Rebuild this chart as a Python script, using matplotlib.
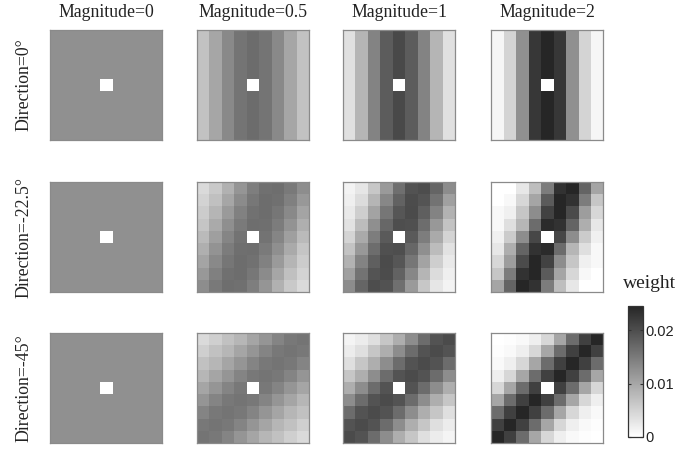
import numpy as np
import matplotlib
matplotlib.use("Agg")
import matplotlib.pyplot as plt
from matplotlib.colors import LinearSegmentedColormap

# weights are in units of 1e-3, the centre cell is left empty
magnitudes = ["0", "0.5", "1", "2"]
directions = ["0", "-22.5", "-45"]

uniform_weight = 12.5

# direction 0: weights only change across columns
dir0_mag05 = [6.8, 10.0, 13.3, 15.6, 16.5, 15.6, 13.3, 10.0, 6.8]
dir0_mag1 = [3.5, 8.3, 13.9, 18.3, 20.4, 18.3, 13.9, 8.3, 3.5]
dir0_mag2 = [1.0, 4.8, 12.5, 22.5, 24.5, 22.5, 12.5, 4.8, 1.0]

dir22_mag05 = [
    [4.2, 6.1, 8.8, 11.9, 14.5, 16.1, 16.3, 15.1, 12.8],
    [4.9, 7.1, 10.0, 13.1, 15.3, 16.4, 16.0, 14.3, 11.5],
    [5.7, 8.3, 11.3, 14.1, 15.9, 16.4, 15.4, 13.3, 10.2],
    [6.6, 9.5, 12.6, 15.0, 16.3, 16.2, 14.7, 12.1, 9.0],
    [7.8, 10.8, 13.7, 15.7, np.nan, 15.7, 13.7, 10.8, 7.8],
    [9.0, 12.1, 14.7, 16.2, 16.3, 15.0, 12.6, 9.5, 6.6],
    [10.2, 13.3, 15.4, 16.4, 15.9, 14.1, 11.3, 8.3, 5.7],
    [11.5, 14.3, 16.0, 16.4, 15.3, 13.1, 10.0, 7.1, 4.9],
    [12.8, 15.1, 16.3, 16.1, 14.5, 11.9, 8.8, 6.1, 4.2],
]
dir22_mag1 = [
    [1.3, 2.8, 6.3, 11.3, 16.2, 19.5, 20.0, 17.3, 13.0],
    [1.8, 3.9, 8.3, 13.5, 17.7, 20.1, 19.2, 15.7, 10.7],
    [2.4, 5.5, 10.4, 15.4, 19.0, 20.2, 18.0, 13.9, 8.7],
    [3.3, 7.5, 12.6, 17.1, 19.9, 19.7, 16.4, 11.6, 6.7],
    [4.8, 9.5, 14.6, 18.5, np.nan, 18.5, 14.6, 9.5, 4.8],
    [6.7, 11.6, 16.4, 19.7, 19.9, 17.1, 12.6, 7.5, 3.3],
    [8.7, 13.9, 18.0, 20.2, 19.0, 15.4, 10.4, 5.5, 2.4],
    [10.7, 15.7, 19.2, 20.1, 17.7, 13.5, 8.3, 3.9, 1.8],
    [13.0, 17.3, 20.0, 19.5, 16.2, 11.3, 6.3, 2.8, 1.3],
]
dir22_mag2 = [
    [0.0, 0.0, 2.7, 7.3, 14.7, 23.0, 24.5, 17.5, 10.1],
    [0.0, 0.8, 4.5, 10.1, 18.4, 24.5, 23.0, 14.7, 6.4],
    [0.8, 1.7, 6.4, 12.8, 21.2, 24.5, 20.2, 11.0, 4.5],
    [0.8, 3.6, 8.2, 16.5, 23.9, 23.0, 17.5, 9.1, 2.7],
    [1.7, 5.9, 12.8, 20.7, np.nan, 20.7, 12.8, 5.9, 1.7],
    [2.7, 9.1, 17.5, 23.0, 23.9, 16.5, 8.2, 3.6, 0.8],
    [4.5, 11.0, 20.2, 24.5, 21.2, 12.8, 6.4, 1.7, 0.8],
    [6.4, 14.7, 23.0, 24.5, 18.4, 10.1, 4.5, 0.8, 0.0],
    [10.1, 17.5, 24.5, 23.0, 14.7, 7.3, 2.7, 0.0, 0.0],
]

dir45_mag05 = [
    [4.2, 5.4, 6.9, 8.2, 10.1, 11.9, 13.8, 15.2, 15.6],
    [5.4, 6.9, 8.2, 10.1, 11.9, 13.8, 15.2, 15.6, 15.2],
    [6.9, 8.2, 10.1, 11.9, 13.8, 15.2, 15.6, 15.2, 13.8],
    [8.2, 10.1, 11.9, 13.8, 15.2, 15.6, 15.2, 13.8, 11.9],
    [10.1, 11.9, 13.8, 15.2, np.nan, 15.2, 13.8, 11.9, 10.1],
    [11.9, 13.8, 15.2, 15.6, 15.2, 13.8, 11.9, 10.1, 8.2],
    [13.8, 15.2, 15.6, 15.2, 13.8, 11.9, 10.1, 8.2, 6.9],
    [15.2, 15.6, 15.2, 13.8, 11.9, 10.1, 8.2, 6.9, 5.4],
    [15.6, 15.2, 13.8, 11.9, 10.1, 8.2, 6.9, 5.4, 4.2],
]
dir45_mag1 = [
    [1.2, 2.2, 3.6, 6.4, 9.1, 12.8, 16.5, 19.3, 20.2],
    [2.2, 3.6, 6.4, 9.1, 12.8, 16.5, 19.3, 20.2, 19.3],
    [3.6, 6.4, 9.1, 12.8, 16.5, 19.3, 20.2, 19.3, 16.5],
    [6.4, 9.1, 12.8, 16.5, 19.3, 20.2, 19.3, 16.5, 12.8],
    [9.1, 12.8, 16.5, 19.3, np.nan, 19.3, 16.5, 12.8, 9.1],
    [12.8, 16.5, 19.3, 20.2, 19.3, 16.5, 12.8, 9.1, 6.4],
    [16.5, 19.3, 20.2, 19.3, 16.5, 12.8, 9.1, 6.4, 3.6],
    [19.3, 20.2, 19.3, 16.5, 12.8, 9.1, 6.4, 3.6, 2.2],
    [20.2, 19.3, 16.5, 12.8, 9.1, 6.4, 3.6, 2.2, 1.2],
]
dir45_mag2 = [
    [0.0, 0.2, 0.6, 1.8, 4.5, 10.0, 16.5, 21.5, 24.5],
    [0.2, 0.6, 1.8, 4.5, 10.0, 16.5, 21.5, 24.5, 21.5],
    [0.6, 1.8, 4.5, 10.0, 16.5, 21.5, 24.5, 21.5, 16.5],
    [1.8, 4.5, 10.0, 16.5, 21.5, 24.5, 21.5, 16.5, 10.0],
    [4.5, 10.0, 16.5, 21.5, np.nan, 21.5, 16.5, 10.0, 4.5],
    [10.0, 16.5, 21.5, 24.5, 21.5, 16.5, 10.0, 4.5, 1.8],
    [16.5, 21.5, 24.5, 21.5, 16.5, 10.0, 4.5, 1.8, 0.6],
    [21.5, 24.5, 21.5, 16.5, 10.0, 4.5, 1.8, 0.6, 0.2],
    [24.5, 21.5, 16.5, 10.0, 4.5, 1.8, 0.6, 0.2, 0.0],
]

cbar_ticks = [0, 0.01, 0.02]
cbar_labels = ["0", "0.01", "0.02"]


def as_grid(values):
    g = np.array(values, dtype=float)
    if g.ndim == 1:
        g = np.tile(g, (9, 1))
    g = g.copy()
    g[4, 4] = np.nan
    return g * 1e-3


grids = [
    [np.full(9, uniform_weight), dir0_mag05, dir0_mag1, dir0_mag2],
    [np.full(9, uniform_weight), dir22_mag05, dir22_mag1, dir22_mag2],
    [np.full(9, uniform_weight), dir45_mag05, dir45_mag1, dir45_mag2],
]

W, H = 688, 449
fig = plt.figure(figsize=(W / 100, H / 100), dpi=100)
serif = "Liberation Serif"


def rect(x0, y0, w, h):
    return [x0 / W, 1 - (y0 + h) / H, w / W, h / H]


cmap = LinearSegmentedColormap.from_list("wgray", ["#ffffff", "#262626"])
cmap.set_bad("white")

col_x = [50, 197, 343, 491]
row_y = [30, 182, 333]
pw, ph = 112, 110

im = None
for r in range(3):
    for c in range(4):
        ax = fig.add_axes(rect(col_x[c], row_y[r], pw, ph))
        im = ax.imshow(as_grid(grids[r][c]), cmap=cmap, vmin=0, vmax=0.0245,
                       aspect="auto", interpolation="nearest")
        ax.set_xticks([])
        ax.set_yticks([])
        for s in ax.spines.values():
            s.set_color("#8a8a8a")
            s.set_linewidth(0.9)

for c, m in enumerate(magnitudes):
    fig.text((col_x[c] + pw / 2) / W, 1 - 12.5 / H, f"Magnitude={m}",
             ha="center", va="center", fontsize=12.8, family=serif, color="#222222")

for r, d in enumerate(directions):
    fig.text(24 / W, 1 - (row_y[r] + ph / 2) / H, f"Direction={d}°",
             ha="center", va="center", rotation=90, fontsize=12.8,
             family=serif, color="#222222")

cax = fig.add_axes(rect(628, 306, 15, 131))
cb = fig.colorbar(im, cax=cax, ticks=cbar_ticks)
cb.ax.set_yticklabels(cbar_labels)
cb.outline.set_edgecolor("#333333")
cb.outline.set_linewidth(0.9)
cax.tick_params(direction="in", length=2.5, left=True, right=True,
                labelsize=10.5, pad=2, colors="#333333")
for t in cax.get_yticklabels():
    t.set_family("Liberation Sans")
    t.set_color("#222222")

fig.text(650 / W, 1 - 283 / H, "weight", ha="center", va="center",
         fontsize=14, family=serif, color="#222222")

fig.savefig("out.png", dpi=100)
